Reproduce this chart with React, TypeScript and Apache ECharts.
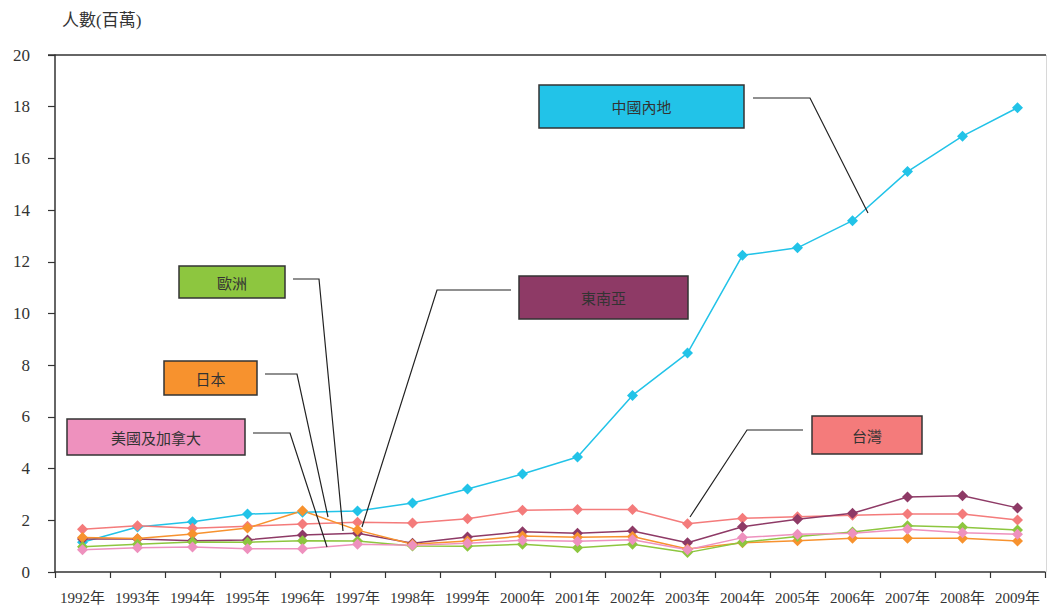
import React, { useEffect, useRef } from "react";
import * as echarts from "echarts";

const years = [
  "1992年", "1993年", "1994年", "1995年", "1996年", "1997年", "1998年", "1999年", "2000年",
  "2001年", "2002年", "2003年", "2004年", "2005年", "2006年", "2007年", "2008年", "2009年",
];

const mainland = [1.15, 1.74, 1.94, 2.24, 2.31, 2.36, 2.67, 3.21, 3.79, 4.45, 6.83, 8.47, 12.25, 12.54, 13.59, 15.49, 16.86, 17.96];
const taiwan = [1.65, 1.79, 1.69, 1.77, 1.86, 1.92, 1.9, 2.06, 2.39, 2.42, 2.42, 1.87, 2.08, 2.14, 2.2, 2.24, 2.24, 2.01];
const southeastAsia = [1.28, 1.28, 1.21, 1.24, 1.43, 1.5, 1.11, 1.35, 1.56, 1.5, 1.59, 1.13, 1.75, 2.04, 2.27, 2.9, 2.95, 2.48];
const japan = [1.33, 1.3, 1.47, 1.7, 2.37, 1.62, 1.07, 1.2, 1.39, 1.34, 1.37, 0.89, 1.13, 1.21, 1.31, 1.31, 1.31, 1.2];
const europe = [0.98, 1.07, 1.16, 1.15, 1.21, 1.2, 1.01, 1.0, 1.07, 0.94, 1.07, 0.75, 1.15, 1.37, 1.55, 1.79, 1.73, 1.62];
const usCanada = [0.86, 0.94, 0.97, 0.9, 0.9, 1.07, 1.03, 1.11, 1.23, 1.19, 1.25, 0.86, 1.33, 1.46, 1.5, 1.65, 1.52, 1.46];

const yTicks = [0, 2, 4, 6, 8, 10, 12, 14, 16, 18, 20];

const COLORS = {
  mainland: "#22C3E8",
  taiwan: "#F47B7B",
  southeastAsia: "#8E3A66",
  japan: "#F7922E",
  europe: "#8DC63F",
  usCanada: "#EE91BE",
};

const SERIF = '"Liberation Serif", "DejaVu Serif", "Noto Sans CJK TC"';
const CJK = '"Noto Sans CJK TC", "Noto Sans CJK SC"';

function makeSeries(name: string, data: number[], color: string) {
  return {
    name,
    type: "line",
    data,
    symbol: "diamond",
    symbolSize: 11,
    lineStyle: { color, width: 1.5 },
    itemStyle: { color },
  };
}

// label box with a bent leader line
function callout(
  text: string,
  fill: string,
  box: [number, number, number, number],
  leader: number[][],
) {
  const [x, y, w, h] = box;
  return [
    {
      type: "polyline",
      shape: { points: leader },
      style: { stroke: "#222", lineWidth: 1.2, fill: null },
      z: 10,
    },
    {
      type: "rect",
      shape: { x, y, width: w, height: h },
      style: { fill, stroke: "#333", lineWidth: 1.5 },
      z: 10,
    },
    {
      type: "text",
      x: x + w / 2,
      y: y + h / 2,
      style: {
        text,
        fill: "#333",
        fontSize: 15,
        fontFamily: CJK,
        align: "center",
        verticalAlign: "middle",
      },
      z: 11,
    },
  ];
}

export default function App() {
  const ref = useRef<HTMLDivElement>(null);

  useEffect(() => {
    if (!ref.current) return;
    const chart = echarts.init(ref.current, null, { renderer: "svg" });
    chart.setOption({
      animation: false,
      backgroundColor: "#ffffff",
      textStyle: { fontFamily: SERIF },
      grid: { left: 55, top: 55, width: 990, height: 517 },
      xAxis: {
        type: "category",
        data: years,
        boundaryGap: true,
        axisLine: { lineStyle: { color: "#333", width: 1.5 } },
        axisTick: { show: true, length: 6, lineStyle: { color: "#333", width: 1.2 } },
        axisLabel: {
          color: "#333",
          fontSize: 15,
          fontFamily: SERIF,
          margin: 18,
          interval: 0,
        },
        splitLine: { show: false },
      },
      yAxis: {
        type: "value",
        min: 0,
        max: 20,
        interval: 2,
        axisLine: { show: true, lineStyle: { color: "#333", width: 1.5 } },
        axisTick: { show: true, length: 7, lineStyle: { color: "#333", width: 1.2 } },
        axisLabel: {
          color: "#333",
          fontSize: 17,
          fontFamily: SERIF,
          margin: 25,
          formatter: (v: number) => (yTicks.includes(v) ? String(v) : ""),
        },
        splitLine: { show: false },
      },
      series: [
        makeSeries("中國內地", mainland, COLORS.mainland),
        makeSeries("台灣", taiwan, COLORS.taiwan),
        makeSeries("東南亞", southeastAsia, COLORS.southeastAsia),
        makeSeries("日本", japan, COLORS.japan),
        makeSeries("歐洲", europe, COLORS.europe),
        makeSeries("美國及加拿大", usCanada, COLORS.usCanada),
      ],
      graphic: [
        {
          type: "text",
          x: 62,
          y: 12,
          style: { text: "人數(百萬)", fill: "#333", fontSize: 17, fontFamily: SERIF },
        },
        {
          type: "line",
          shape: { x1: 48, y1: 55, x2: 1046, y2: 55 },
          style: { stroke: "#333", lineWidth: 1.5 },
        },
        {
          type: "line",
          shape: { x1: 1046.5, y1: 55, x2: 1046.5, y2: 572 },
          style: { stroke: "#d8d8d8", lineWidth: 1 },
        },
        ...callout("中國內地", COLORS.mainland, [539, 85, 205, 43], [[753, 98], [810, 98], [868, 213]]),
        ...callout("東南亞", COLORS.southeastAsia, [519, 276, 169, 43], [[511, 290], [437, 290], [362, 527]]),
        ...callout("歐洲", COLORS.europe, [179, 266, 106, 32], [[293, 279], [319, 279], [343, 531]]),
        ...callout("日本", COLORS.japan, [164, 361, 93, 34], [[265, 374], [297, 374], [328, 517]]),
        ...callout("美國及加拿大", COLORS.usCanada, [67, 419, 178, 36], [[253, 433], [290, 433], [327, 547]]),
        ...callout("台灣", COLORS.taiwan, [812, 416, 110, 38], [[803, 430], [747, 430], [690, 517]]),
      ],
    });
    return () => chart.dispose();
  }, []);

  return (
    <div
      ref={ref}
      style={{ position: "fixed", left: 0, top: 0, width: 1048, height: 606, background: "#fff" }}
    />
  );
}
